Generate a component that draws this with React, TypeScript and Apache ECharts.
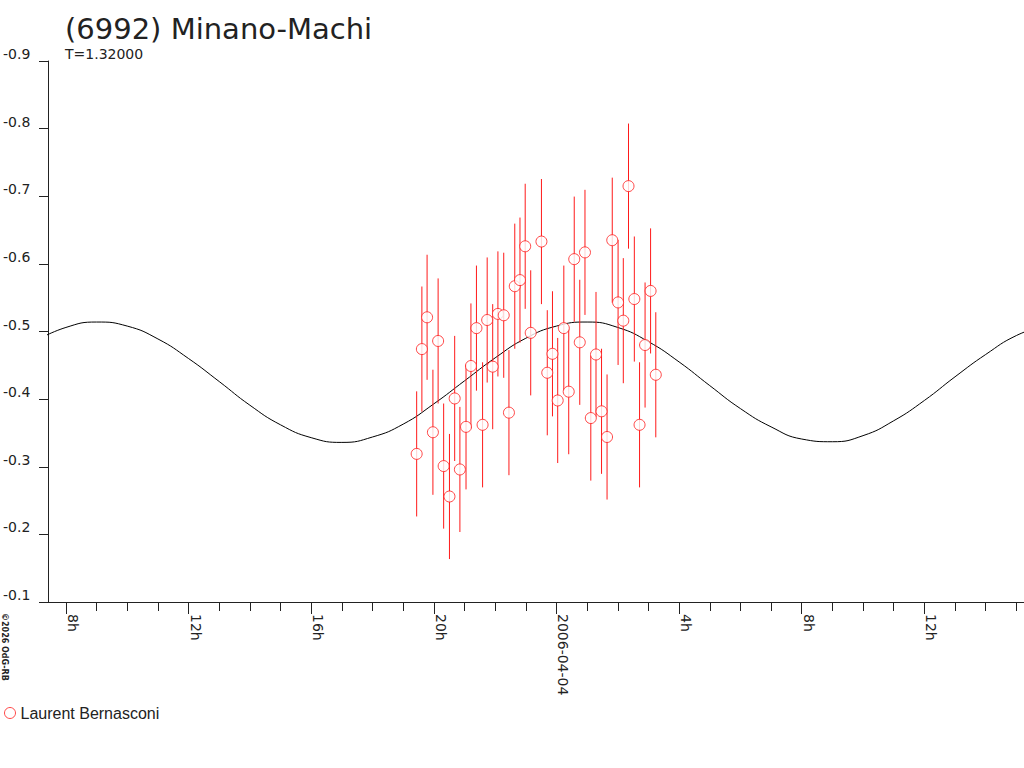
import React, { useEffect, useRef } from 'react'
import * as echarts from 'echarts'

// hours relative to 2006-04-04 00:00
const obsHours = [
  -4.56, -4.39, -4.22, -4.03, -3.86, -3.68, -3.49, -3.32, -3.15, -2.95, -2.79,
  -2.61, -2.41, -2.26, -2.08, -1.91, -1.72, -1.55, -1.36, -1.19, -1.02, -0.84,
  -0.49, -0.30, -0.13, 0.04, 0.24, 0.40, 0.58, 0.76, 0.93, 1.12, 1.29, 1.47,
  1.65, 1.82, 2.01, 2.18, 2.35, 2.54, 2.71, 2.89, 3.07, 3.24,
]
const obsMags = [
  -0.319, -0.474, -0.521, -0.351, -0.486, -0.301, -0.256, -0.401, -0.296, -0.359, -0.449,
  -0.505, -0.362, -0.517, -0.448, -0.526, -0.524, -0.380, -0.567, -0.576, -0.626, -0.498,
  -0.633, -0.439, -0.467, -0.398, -0.505, -0.411, -0.607, -0.484, -0.617, -0.372, -0.466,
  -0.382, -0.344, -0.635, -0.543, -0.516, -0.715, -0.548, -0.362, -0.480, -0.560, -0.436,
]
const MAG_ERROR = 0.0925

// fitted curve, one value per hour
const curveHours = [
  -17, -16, -15, -14, -13, -12, -11, -10, -9, -8, -7, -6, -5, -4, -3, -2, -1,
  0, 1, 2, 3, 4, 5, 6, 7, 8, 9, 10, 11, 12, 13, 14, 15, 16,
]
const curveMags = [
  -0.486, -0.506, -0.514, -0.508, -0.489, -0.460, -0.426, -0.391, -0.362, -0.343, -0.336,
  -0.344, -0.363, -0.393, -0.427, -0.461, -0.490, -0.508, -0.514, -0.506, -0.485, -0.455,
  -0.420, -0.386, -0.359, -0.341, -0.337, -0.346, -0.368, -0.398, -0.433, -0.466, -0.494,
  -0.510,
]

const hourTicks = [
  -16, -15, -14, -13, -12, -11, -10, -9, -8, -7, -6, -5, -4, -3, -2, -1,
  0, 1, 2, 3, 4, 5, 6, 7, 8, 9, 10, 11, 12, 13, 14, 15,
]
const labelHours = [-16, -12, -8, -4, 0, 4, 8, 12]

const X_MIN = -16.585
const X_MAX = 15.25
const RED = '#ff1a1a'
const INK = '#222'
const FONT = 'DejaVu Sans'

const hourLabel = (v: number) => (v === 0 ? '2006-04-04' : ((v + 24) % 24) + 'h')

const App = () => {
  const chartRef = useRef<HTMLDivElement>(null)

  useEffect(() => {
    if (!chartRef.current) return
    const chart = echarts.init(chartRef.current, null, { renderer: 'svg' })
    const points = obsHours.map((h, i) => [h, obsMags[i]])

    const option: echarts.EChartsOption = {
      animation: false,
      backgroundColor: '#fff',
      title: [
        {
          text: '(6992) Minano-Machi',
          left: 65,
          top: 14,
          padding: 0,
          textStyle: { fontFamily: FONT, fontSize: 29, fontWeight: 'normal', color: INK },
        },
        {
          text: 'T=1.32000',
          left: 65,
          top: 47,
          padding: 0,
          textStyle: { fontFamily: FONT, fontSize: 14, fontWeight: 'normal', color: INK },
        },
      ],
      legend: {
        left: 4,
        top: 705,
        padding: 0,
        itemWidth: 11,
        itemHeight: 11,
        data: [
          {
            name: 'Laurent Bernasconi',
            icon: 'circle',
            itemStyle: { color: '#fff', borderColor: RED, borderWidth: 1 },
          },
        ],
        textStyle: { fontFamily: 'Liberation Sans', fontSize: 16, color: INK },
      },
      grid: { left: 45, right: 0, top: 61, bottom: 166 },
      xAxis: [
        {
          type: 'value',
          position: 'bottom',
          min: X_MIN,
          max: X_MAX,
          axisLine: { show: true, onZero: false, lineStyle: { color: INK, width: 1 } },
          axisTick: { show: true, length: 9, customValues: hourTicks, lineStyle: { color: INK } },
          axisLabel: {
            customValues: labelHours,
            formatter: (v: number) => hourLabel(v),
            rotate: -90,
            align: 'left',
            verticalAlign: 'bottom',
            margin: 12,
            fontFamily: FONT,
            fontSize: 14,
            color: INK,
          },
          splitLine: { show: false },
        },
        {
          type: 'value',
          position: 'bottom',
          offset: 0,
          min: X_MIN,
          max: X_MAX,
          axisLine: { show: false, onZero: false },
          axisTick: { show: true, length: 12, customValues: labelHours, lineStyle: { color: INK } },
          axisLabel: { show: false },
          splitLine: { show: false },
        },
      ],
      yAxis: {
        type: 'value',
        inverse: true,
        min: -0.9,
        max: -0.1,
        interval: 0.1,
        axisLine: { show: true, onZero: false, lineStyle: { color: INK, width: 1 } },
        axisTick: { show: true, length: 9, lineStyle: { color: INK } },
        axisLabel: {
          formatter: (v: number) => v.toFixed(1),
          align: 'left',
          verticalAlign: 'bottom',
          margin: 45,
          fontFamily: FONT,
          fontSize: 14,
          color: INK,
        },
        splitLine: { show: false },
      },
      graphic: [
        {
          type: 'text',
          x: 0,
          y: 613,
          rotation: -Math.PI / 2,
          style: {
            text: '\u00a92026 OdG-RB',
            fontFamily: FONT,
            fontSize: 8,
            fontWeight: 'bold',
            fill: INK,
            textAlign: 'left',
            textVerticalAlign: 'bottom',
          },
        },
      ],
      series: [
        {
          type: 'line',
          data: curveHours.map((h, i) => [h, curveMags[i]]),
          smooth: true,
          symbol: 'none',
          lineStyle: { color: '#000', width: 1 },
          silent: true,
          z: 1,
        },
        {
          type: 'custom',
          data: points,
          encode: { x: 0, y: 1 },
          renderItem: (_params: any, api: any) => {
            const x = api.value(0)
            const y = api.value(1)
            const top = api.coord([x, y - MAG_ERROR])
            const bot = api.coord([x, y + MAG_ERROR])
            return {
              type: 'line',
              shape: { x1: top[0], y1: top[1], x2: bot[0], y2: bot[1] },
              style: { stroke: RED, lineWidth: 1 },
            }
          },
          z: 2,
        },
        {
          name: 'Laurent Bernasconi',
          type: 'scatter',
          data: points,
          symbol: 'circle',
          symbolSize: 11,
          itemStyle: { color: '#fff', borderColor: RED, borderWidth: 1 },
          z: 3,
        },
      ],
    }

    chart.setOption(option)
    return () => {
      chart.dispose()
    }
  }, [])

  return (
    <div
      ref={chartRef}
      style={{ position: 'fixed', left: 0, top: 0, width: 1024, height: 768 }}
    />
  )
}

export default App
